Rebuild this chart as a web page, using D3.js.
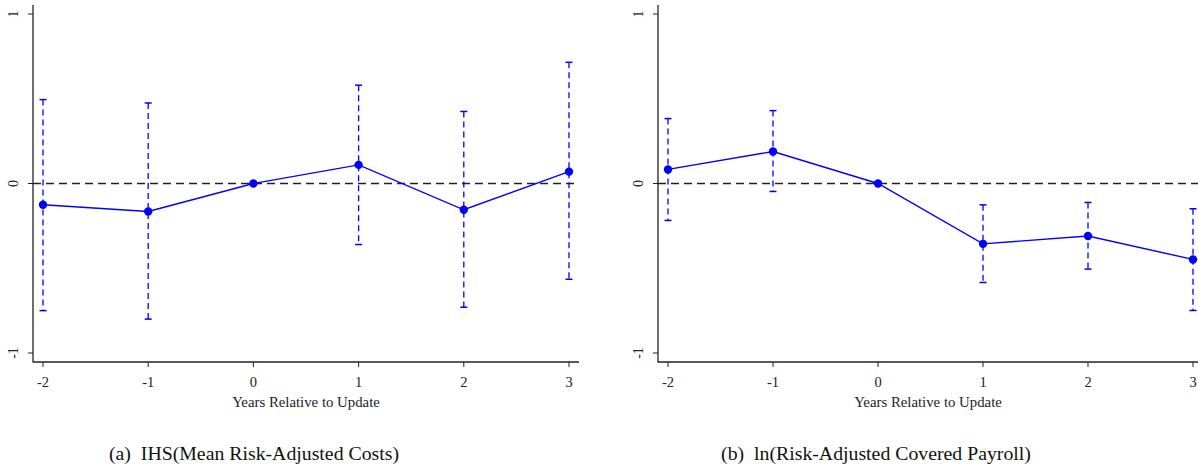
<!DOCTYPE html>
<html><head><meta charset="utf-8">
<script src="https://cdn.jsdelivr.net/npm/d3@7"></script>
<style>body{margin:0;background:#fff}svg{display:block}</style>
</head><body><svg id="c" width="1198" height="470"></svg>
<script>
const years = [-2, -1, 0, 1, 2, 3];
const yTicks = [-1, 0, 1];
const xLabel = "Years Relative to Update";
const estA = [-0.125, -0.165, 0, 0.11, -0.155, 0.07];
const lowA = [-0.75, -0.80, 0, -0.36, -0.73, -0.565];
const highA = [0.495, 0.475, 0, 0.58, 0.425, 0.715];
const estB = [0.083, 0.189, 0, -0.356, -0.31, -0.448];
const lowB = [-0.218, -0.047, 0, -0.584, -0.505, -0.749];
const highB = [0.383, 0.43, 0, -0.126, -0.112, -0.149];
const captionA = "(a)  IHS(Mean Risk-Adjusted Costs)";
const captionB = "(b)  ln(Risk-Adjusted Covered Payroll)";

const svg = d3.select("#c");
const blue = "#0000ff", ink = "#222";
const tickFont = "Liberation Serif, Times New Roman, serif";

function panel(o) {
  const g = svg.append("g");
  const x = d3.scaleLinear().domain([-2, 3]).range([o.x0, o.x1]);
  const y = d3.scaleLinear().domain([-1, 1]).range([353, 14]);
  g.append("line").attr("x1", o.ax).attr("x2", o.ax).attr("y1", 5).attr("y2", 362.5)
    .attr("stroke", ink).attr("stroke-width", 1.3);
  g.append("line").attr("x1", o.ax).attr("x2", o.axEnd).attr("y1", 362).attr("y2", 362)
    .attr("stroke", ink).attr("stroke-width", 1.3);
  yTicks.forEach(t => {
    g.append("line").attr("x1", o.ax - 5).attr("x2", o.ax).attr("y1", y(t)).attr("y2", y(t))
      .attr("stroke", ink).attr("stroke-width", 1);
    g.append("text").attr("transform", `translate(${o.ax - 15},${y(t)}) rotate(-90)`)
      .attr("text-anchor", "middle").attr("font-family", tickFont).attr("font-size", 14)
      .attr("fill", ink).text(t);
  });
  years.forEach(t => {
    g.append("line").attr("x1", x(t)).attr("x2", x(t)).attr("y1", 362).attr("y2", 367)
      .attr("stroke", ink).attr("stroke-width", 1);
    g.append("text").attr("x", x(t)).attr("y", 387).attr("text-anchor", "middle")
      .attr("font-family", tickFont).attr("font-size", 14.5).attr("fill", ink).text(t);
  });
  g.append("text").attr("x", (o.ax + o.axEnd) / 2).attr("y", 407).attr("text-anchor", "middle")
    .attr("font-family", tickFont).attr("font-size", 14.8).attr("fill", ink).text(xLabel);
  g.append("line").attr("x1", o.ax).attr("x2", o.axEnd).attr("y1", y(0)).attr("y2", y(0))
    .attr("stroke", ink).attr("stroke-width", 1.3).attr("stroke-dasharray", "8,5");
  years.forEach((t, i) => {
    if (o.low[i] === o.high[i]) return;
    g.append("line").attr("x1", x(t)).attr("x2", x(t)).attr("y1", y(o.high[i])).attr("y2", y(o.low[i]))
      .attr("stroke", blue).attr("stroke-width", 1.3).attr("stroke-dasharray", "6,4");
    [o.low[i], o.high[i]].forEach(v => {
      g.append("line").attr("x1", x(t) - 3.5).attr("x2", x(t) + 3.5).attr("y1", y(v)).attr("y2", y(v))
        .attr("stroke", blue).attr("stroke-width", 1.5);
    });
  });
  g.append("path").datum(years.map((t, i) => [t, o.est[i]]))
    .attr("d", d3.line().x(d => x(d[0])).y(d => y(d[1])))
    .attr("fill", "none").attr("stroke", blue).attr("stroke-width", 1.4);
  g.selectAll(null).data(years).join("circle")
    .attr("cx", d => x(d)).attr("cy", (d, i) => y(o.est[i])).attr("r", 4.2).attr("fill", blue);
  g.append("text").attr("x", o.capX).attr("y", 460).attr("text-anchor", "middle")
    .attr("font-family", "Liberation Serif, serif").attr("font-size", 19.8).attr("fill", "#111")
    .attr("xml:space", "preserve").style("white-space", "pre").text(o.caption);
}

panel({x0: 43, x1: 569, ax: 33, axEnd: 579, est: estA, low: lowA, high: highA, caption: captionA, capX: 254});
panel({x0: 668, x1: 1193, ax: 658, axEnd: 1198, est: estB, low: lowB, high: highB, caption: captionB, capX: 876});
</script></body></html>
